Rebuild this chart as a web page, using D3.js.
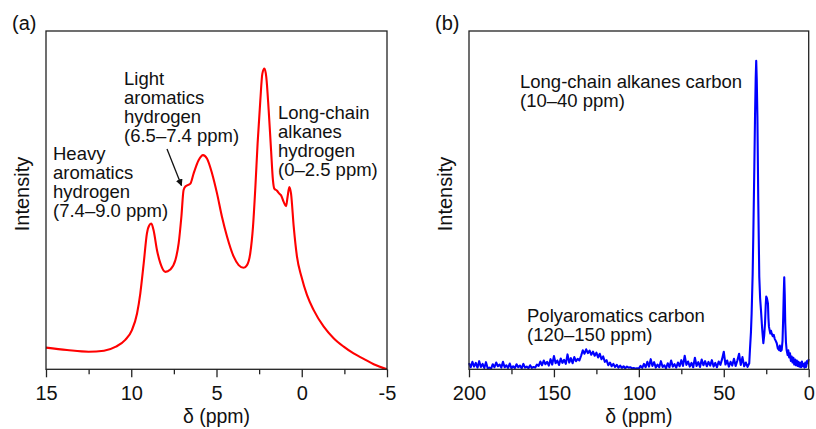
<!DOCTYPE html>
<html>
<head>
<meta charset="utf-8">
<script src="https://cdn.jsdelivr.net/npm/d3@7"></script>
<style>
  body { margin: 0; background: #fff; }
  text { font-family: "Liberation Sans", Arial, sans-serif; fill: #111; }
  .frame { fill: none; stroke: #222; stroke-width: 1.3; }
  .axis path { display: none; }
  .axis line { stroke: #222; stroke-width: 1.3; }
</style>
</head>
<body>
<div id="chart"></div>
<script>
// (a) 1H NMR, [shift ppm, intensity]
const hydrogenSpectrum = [
  [15, 6.4], [13.77, 5.7], [12.5, 5.2], [11.6, 5.5], [10.9, 6.7], [10.35, 8.7],
  [9.96, 11.6], [9.66, 16.5], [9.47, 22.4], [9.27, 31.3], [9.08, 40.2], [8.94, 42.6],
  [8.82, 43.1], [8.69, 41.1], [8.49, 35.2], [8.29, 31.3], [8.0, 28.8], [7.71, 29.5],
  [7.41, 32.3], [7.22, 37.2], [7.06, 45.1], [6.93, 53], [6.81, 54.1], [6.53, 54.9],
  [6.34, 57.9], [6.05, 61.8], [5.79, 63.3], [5.56, 62.3], [5.26, 57.9], [4.97, 52],
  [4.68, 45.1], [4.38, 39.2], [3.99, 33.3], [3.7, 30.8], [3.41, 30], [3.21, 30.8],
  [3.02, 34.3], [2.86, 42.1], [2.72, 53.9], [2.59, 66.7], [2.43, 79.5], [2.31, 87.4],
  [2.19, 88.9], [2.08, 86.4], [1.94, 76.6], [1.80, 64.8], [1.69, 55.9], [1.61, 53.4],
  [1.45, 52.8], [1.33, 52], [1.22, 51.5], [1.06, 49.5], [0.92, 48.2], [0.83, 51],
  [0.73, 53.9], [0.63, 52], [0.47, 42.1], [0.28, 33.3], [0.02, 27.4], [-0.31, 21.9],
  [-0.70, 17.5], [-1.29, 12.6], [-1.87, 9.2], [-2.46, 6.7], [-3.04, 4.7], [-3.63, 3.1],
  [-4.22, 1.5], [-5, 0]
];

// (b) 13C NMR baseline, read every 1 ppm from 200 down to 35
const carbonBaseStart = 200;
const carbonBaseline = [
  1.8, 0.6, 2.2, 0.8, 1.9, 0.5, 2.4, 0.7, 1.6, 0.4, 2.1, 0.3, 0.5, 0.2, 1.5, 0.6,
  2.0, 0.9, 1.4, 0.5, 2.2, 0.6, 1.2, 0.4, 1.7, 0.3, 0.9, 0.4, 1.5, 0.6, 1.1, 0.3,
  1.6, 0.5, 0.8, 0.3, 1.2, 0.4, 0.7, 0.5, 1.4, 1.0, 2.3, 1.2, 2.6, 1.5, 2.2, 1.1,
  3.0, 1.4, 3.9, 1.8, 2.6, 1.3, 3.2, 1.9, 2.8, 1.6, 4.4, 2.0, 3.3, 1.8, 3.6, 2.4,
  3.1, 2.6, 4.0, 5.6, 4.6, 5.9, 4.8, 5.5, 4.3, 5.2, 4.0, 4.9, 3.5, 4.6, 3.0, 3.8,
  2.2, 2.7, 1.2, 2.0, 0.9, 1.6, 0.7, 1.3, 0.5, 1.1, 0.4, 0.9, 0.3, 0.8, 0.5, 0.6,
  0.3, 0.4, 0.2, 0.3, 0.2, 1.0, 0.4, 1.6, 0.6, 2.2, 0.8, 3.0, 1.0, 2.1, 0.5, 1.4,
  0.6, 2.4, 0.7, 1.2, 0.3, 1.8, 0.6, 2.6, 0.8, 1.5, 0.5, 2.0, 0.9, 2.7, 1.0, 4.0,
  1.3, 2.3, 0.8, 1.9, 0.6, 3.4, 1.0, 2.1, 0.7, 2.9, 1.2, 2.4, 0.9, 2.2, 1.1, 2.7,
  0.8, 1.9, 0.6, 2.3, 1.3, 3.0, 5.2, 1.4, 2.6, 0.8, 2.2, 1.1, 3.1, 1.0, 2.6, 4.6,
  1.3, 3.6, 0.9, 2.0, 0.7, 1.8
];

// (b) alkane peak region, [shift ppm, intensity]
const carbonPeaks = [
  [34.6, 5.7], [34.0, 11], [33.6, 16.5], [33.0, 28], [32.6, 40], [32.0, 60],
  [31.6, 74.7], [31.2, 86], [30.9, 91.2], [30.6, 86], [30.2, 74.7], [29.7, 50],
  [29.1, 27.4], [28.6, 21], [28.1, 17.5], [27.4, 12], [26.7, 7.7], [26.2, 10],
  [25.7, 13.7], [25.3, 19], [25.0, 21.5], [24.6, 21], [24.0, 19.5], [23.7, 15],
  [23.4, 12.6], [23.0, 11.5], [22.6, 10.6], [22.2, 11.4], [21.8, 10.6], [21.2, 9.8],
  [20.6, 10.2], [20.0, 9.0], [19.4, 8.4], [18.8, 7.7], [18.2, 6.2], [17.5, 5.7],
  [17.0, 7.0], [16.5, 5.4], [15.9, 5.7], [15.4, 8.5], [15.0, 15.5], [14.7, 22],
  [14.4, 27.2], [14.1, 22], [13.8, 13.6], [13.4, 8], [13.0, 5.7], [12.4, 4.2],
  [12.0, 5.6], [11.5, 3.5], [11.0, 4.7], [10.5, 2.5], [10.0, 3.8], [9.5, 2.0],
  [9.0, 3.4], [8.5, 1.4], [8.0, 2.9], [7.5, 1.2], [7.0, 2.6], [6.5, 1.0],
  [6.0, 2.2], [5.5, 0.8], [5.0, 1.9], [4.5, 0.6], [4.0, 2.3], [3.5, 0.9],
  [3.0, 1.6], [2.5, 0.5], [2.0, 2.0], [1.5, 0.7], [1.0, 2.4], [0.5, 1.8], [0.0, 3.0]
];

const ticksA = [15, 10, 5, 0, -5];
const minorA = [12.5, 7.5, 2.5, -2.5];
const ticksB = [200, 150, 100, 50, 0];
const minorB = [175, 125, 75, 25];

const labelsA = [
  { lines: ["Heavy", "aromatics", "hydrogen", "(7.4\u20139.0 ppm)"], x: 53, y: 160 },
  { lines: ["Light", "aromatics", "hydrogen", "(6.5\u20137.4 ppm)"], x: 124, y: 85 },
  { lines: ["Long-chain", "alkanes", "hydrogen", "(0\u20132.5 ppm)"], x: 278, y: 119 }
];
const labelsB = [
  { lines: ["Long-chain alkanes carbon", "(10\u201340 ppm)"], x: 520, y: 88 },
  { lines: ["Polyaromatics carbon", "(120\u2013150 ppm)"], x: 527, y: 322 }
];

const carbonSpectrum = carbonBaseline
  .map((v, i) => [carbonBaseStart - i, v])
  .concat(carbonPeaks);

const W = 816, H = 429;
const svg = d3.select("#chart").append("svg")
  .attr("width", W)
  .attr("height", H);

svg.append("defs").append("marker")
  .attr("id", "head")
  .attr("viewBox", "0 0 10 10")
  .attr("refX", 9).attr("refY", 5)
  .attr("markerWidth", 7).attr("markerHeight", 7)
  .attr("markerUnits", "userSpaceOnUse")
  .attr("orient", "auto")
  .append("path")
  .attr("d", "M0,0L10,5L0,10z")
  .attr("fill", "#111");

const panel = (opt) => {
  const x = d3.scaleLinear().domain(opt.xDomain).range([opt.left, opt.right]);
  const y = d3.scaleLinear().domain([0, 100]).range([opt.bottom, opt.top]);
  const g = svg.append("g");

  g.append("path")
    .datum(opt.data)
    .attr("fill", "none")
    .attr("stroke", opt.color)
    .attr("stroke-width", 2.1)
    .attr("stroke-linejoin", "round")
    .attr("d", d3.line().x(d => x(d[0])).y(d => y(d[1])).curve(opt.curve));

  g.append("g").attr("class", "axis")
    .attr("transform", "translate(0," + opt.bottom + ")")
    .call(d3.axisBottom(x).tickValues(opt.minor).tickSize(5).tickFormat(""));
  const ax = g.append("g").attr("class", "axis")
    .attr("transform", "translate(0," + opt.bottom + ")")
    .call(d3.axisBottom(x).tickValues(opt.ticks).tickSize(8).tickPadding(9)
      .tickFormat(d => String(d)));
  ax.selectAll("text").attr("font-size", 20).attr("fill", "#111")
    .style("font-family", "'Liberation Sans', Arial, sans-serif");

  g.append("rect").attr("class", "frame")
    .attr("x", opt.left).attr("y", opt.top)
    .attr("width", opt.right - opt.left)
    .attr("height", opt.bottom - opt.top);

  g.append("text")
    .attr("x", (opt.left + opt.right) / 2)
    .attr("y", 423)
    .attr("text-anchor", "middle")
    .attr("font-size", 19.5)
    .text("\u03b4 (ppm)");

  g.append("text")
    .attr("transform", "translate(" + (opt.left - 17) + ",194) rotate(-90)")
    .attr("text-anchor", "middle")
    .attr("font-size", 20)
    .text("Intensity");

  g.append("text")
    .attr("x", opt.left - 34)
    .attr("y", 30)
    .attr("font-size", 20)
    .text(opt.tag);

  opt.labels.forEach(lb => {
    const t = g.append("text").attr("font-size", 18.5);
    t.selectAll("tspan").data(lb.lines).enter()
      .append("tspan")
      .attr("x", lb.x)
      .attr("y", (d, i) => lb.y + i * 19)
      .text(d => d);
  });
  return { x, y, g };
};

const a = panel({
  xDomain: [15, -5], left: 46, right: 387, top: 31, bottom: 369.3,
  data: hydrogenSpectrum, color: "#ff0000", curve: d3.curveMonotoneX,
  ticks: ticksA, minor: minorA, tag: "(a)", labels: labelsA
});

// arrow to the light aromatics shoulder
a.g.append("line")
  .attr("x1", 167).attr("y1", 149)
  .attr("x2", 181.5).attr("y2", 185.5)
  .attr("stroke", "#111")
  .attr("stroke-width", 1.3)
  .attr("marker-end", "url(#head)");

panel({
  xDomain: [200, 0], left: 469, right: 808.7, top: 31, bottom: 369.3,
  data: carbonSpectrum, color: "#0000ff", curve: d3.curveLinear,
  ticks: ticksB, minor: minorB, tag: "(b)", labels: labelsB
});
</script>
</body>
</html>
